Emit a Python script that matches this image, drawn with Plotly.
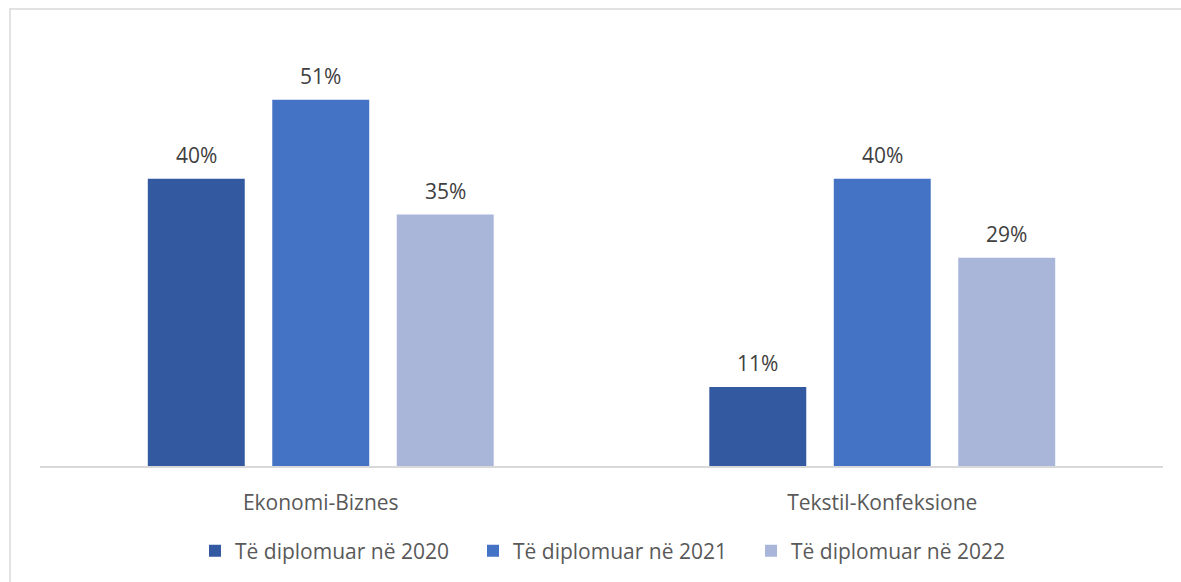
import plotly.graph_objects as go

categories = ["Ekonomi-Biznes", "Tekstil-Konfeksione"]
series_names = ["Të diplomuar në 2020", "Të diplomuar në 2021", "Të diplomuar në 2022"]
values_2020 = [40, 11]
values_2021 = [51, 40]
values_2022 = [35, 29]
colors = ["#335AA1", "#4472C4", "#A9B6DA"]

FONT = "Open Sans"
TXT = "#404040"
TXT2 = "#595959"
FS = 21
BARGAP = 0.335

fig = go.Figure()
all_vals = [values_2020, values_2021, values_2022]
for name, vals, col in zip(series_names, all_vals, colors):
    fig.add_trace(go.Bar(
        x=categories, y=vals, name=name,
        marker=dict(color=col, line=dict(width=0)),
    ))

# value labels above bars
n = len(all_vals)
slot = (1 - BARGAP) / n
for k, vals in enumerate(all_vals):
    for i, v in enumerate(vals):
        fig.add_annotation(
            x=i + (k - (n - 1) / 2) * slot, y=v, xref="x", yref="y",
            text=f"{v}%", showarrow=False, yanchor="bottom", yshift=8,
            font=dict(family=FONT, size=FS, color=TXT),
        )

fig.update_layout(
    width=1181, height=582,
    margin=dict(l=40, r=18, t=35, b=115),
    paper_bgcolor="white", plot_bgcolor="white",
    barmode="group", bargap=BARGAP, bargroupgap=0.221,
    font=dict(family=FONT, size=FS, color=TXT2),
    showlegend=True,
    legend=dict(orientation="h", x=(195 - 40) / 1123, xanchor="left", y=-0.1944, yanchor="middle",
                font=dict(family=FONT, size=FS, color=TXT2),
                entrywidth=233, entrywidthmode="pixels"),
    xaxis=dict(range=[-0.5, 1.5], showline=True, linecolor="#D9D9D9", linewidth=2, ticks="",
               tickfont=dict(family=FONT, size=FS, color=TXT2), showgrid=False,
               ticklabelstandoff=17),
    yaxis=dict(range=[0, 60], visible=False, showgrid=False),
)

fig.add_shape(type="rect", xref="paper", yref="paper",
              x0=(10 - 40) / 1123, x1=1.3, y0=-0.6, y1=(467 - 9) / 432,
              line=dict(color="#D9D9D9", width=1.5), fillcolor="rgba(0,0,0,0)", layer="below")

fig.write_html("out.html", config={"displayModeBar": False},
               post_script="document.body.style.margin='0';document.body.style.overflow='hidden';")
